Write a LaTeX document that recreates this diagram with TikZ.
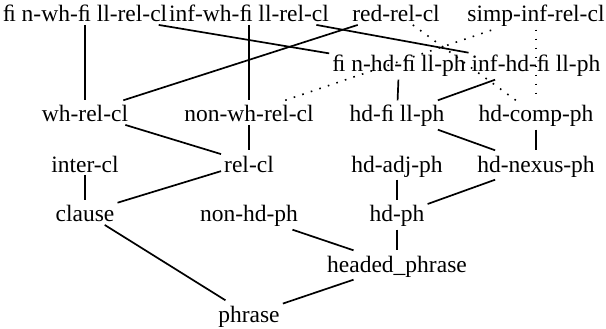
\documentclass[tikz,border=0pt]{standalone}
\usepackage{fontspec}
\setmainfont{Liberation Serif}
\begin{document}
\begin{tikzpicture}[x=1pt,y=-1pt,
  type/.style={font=\fontsize{23.5}{28}\selectfont, inner xsep=3pt,
    inner ysep=2.5pt, text height=19pt, anchor=base},
  isa/.style={line width=1.7pt},
  alt/.style={line width=1.6pt, dash pattern=on 1.6pt off 7.4pt}]
\useasboundingbox (0,0) rectangle (606,329);

% type nodes, row by row
\node[type] (finwh)  at (85,22)  {ﬁ n-wh-ﬁ ll-rel-cl};
\node[type] (infwh)  at (249,22) {inf-wh-ﬁ ll-rel-cl};
\node[type] (red)    at (396,22) {red-rel-cl};
\node[type] (simp)   at (536,22) {simp-inf-rel-cl};

\node[type] (finhd)  at (399,72) {ﬁ n-hd-ﬁ ll-ph};
\node[type] (infhd)  at (536,72) {inf-hd-ﬁ ll-ph};

\node[type] (whrel)  at (85,122)  {wh-rel-cl};
\node[type] (nonwh)  at (249,122) {non-wh-rel-cl};
\node[type] (hdfill) at (397,122) {hd-ﬁ ll-ph};
\node[type] (hdcomp) at (536,122) {hd-comp-ph};

\node[type] (inter)  at (85,172)  {inter-cl};
\node[type] (relcl)  at (249,172) {rel-cl};
\node[type] (hdadj)  at (397,172) {hd-adj-ph};
\node[type] (nexus)  at (536,172) {hd-nexus-ph};

\node[type] (clause) at (85,222)  {clause};
\node[type] (nonhd)  at (249,222) {non-hd-ph};
\node[type] (hdph)   at (397,222) {hd-ph};

\node[type] (headed) at (397,272) {headed\_phrase};
\node[type] (phrase) at (249,322) {phrase};

% subtype links
\draw[isa] (finwh) -- (whrel);
\draw[isa] (infwh) -- (nonwh);
\draw[isa] (finwh) -- (finhd);
\draw[isa] (infwh) -- (infhd);
\draw[isa] (whrel) -- (red);
\draw[isa] (finhd) -- (hdfill);
\draw[isa] (infhd) -- (hdfill);
\draw[isa] (whrel) -- (relcl);
\draw[isa] (nonwh) -- (relcl);
\draw[isa] (inter) -- (clause);
\draw[isa] (relcl) -- (clause);
\draw[isa] (hdfill) -- (nexus);
\draw[isa] (hdcomp) -- (nexus);
\draw[isa] (hdadj) -- (hdph);
\draw[isa] (nexus) -- (hdph);
\draw[isa] (hdph) -- (headed);
\draw[isa] (nonhd) -- (headed);
\draw[isa] (clause) -- (phrase);
\draw[isa] (headed) -- (phrase);

% dotted links
\draw[alt] (red) -- (hdcomp);
\draw[alt] (nonwh) -- (simp);
\draw[alt] (simp) -- (hdcomp);
\end{tikzpicture}
\end{document}
